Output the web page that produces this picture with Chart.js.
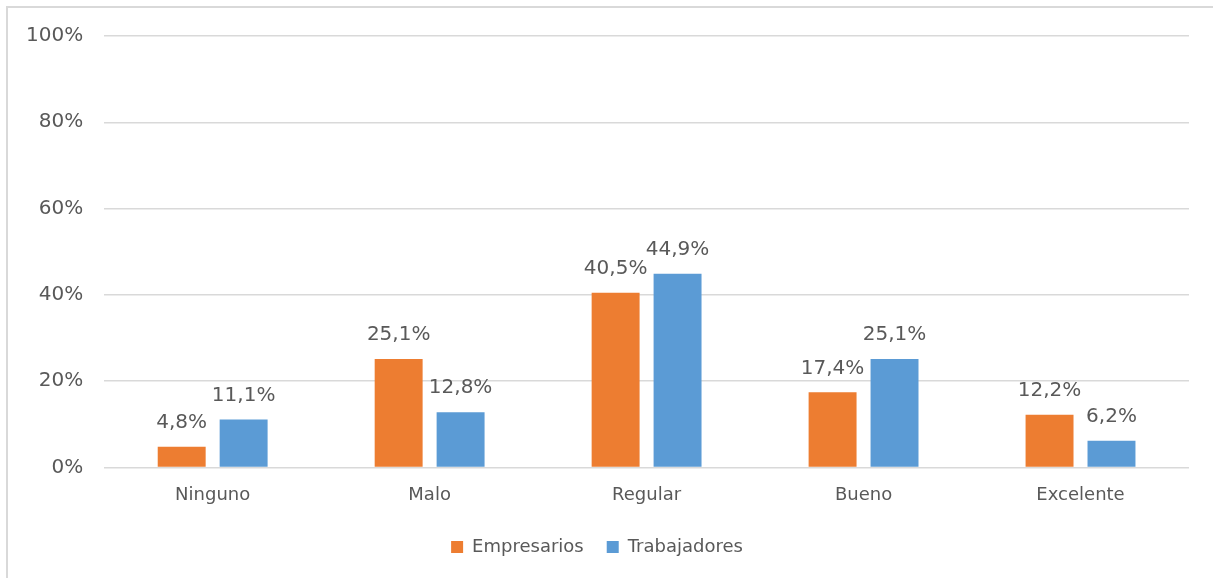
<!DOCTYPE html>
<html>
<head>
<meta charset="utf-8">
<script src="https://cdn.jsdelivr.net/npm/chart.js@4/dist/chart.umd.min.js"></script>
<style>
  html, body { margin: 0; padding: 0; background: #fff; overflow: hidden; }
  #frame { position: absolute; left: 6px; top: 6px; width: 1240px; height: 620px; border: 2px solid #d9d9d9; box-sizing: border-box; }
  #wrap { position: absolute; left: 0; top: 0; width: 1213px; height: 578px; }
</style>
</head>
<body>
<div id="frame"></div>
<div id="wrap"><canvas id="chart"></canvas></div>
<script>
const categories = ['Ninguno', 'Malo', 'Regular', 'Bueno', 'Excelente'];
const empresarios = [4.8, 25.1, 40.5, 17.4, 12.2];
const trabajadores = [11.1, 12.8, 44.9, 25.1, 6.2];
const yTicks = [0, 20, 40, 60, 80, 100];

const textColor = '#595959';
const fontFamily = '"DejaVu Sans", sans-serif';

function fmt(v) { return v.toFixed(1).replace('.', ',') + '%'; }

const valueLabels = {
  id: 'valueLabels',
  afterDatasetsDraw(chart) {
    const ctx = chart.ctx;
    ctx.save();
    ctx.font = '20px ' + fontFamily;
    ctx.fillStyle = textColor;
    ctx.textAlign = 'center';
    ctx.textBaseline = 'bottom';
    chart.data.datasets.forEach((ds, i) => {
      const meta = chart.getDatasetMeta(i);
      meta.data.forEach((bar, j) => {
        ctx.fillText(fmt(ds.data[j]), bar.x, bar.y - 14);
      });
    });
    ctx.restore();
  }
};

new Chart(document.getElementById('chart'), {
  type: 'bar',
  data: {
    labels: categories,
    datasets: [
      { label: 'Empresarios', data: empresarios, backgroundColor: '#ed7d31' },
      { label: 'Trabajadores', data: trabajadores, backgroundColor: '#5b9bd5' }
    ]
  },
  options: {
    responsive: true, maintainAspectRatio: false, animation: false,
    categoryPercentage: 0.571, barPercentage: 0.774,
    layout: { padding: { top: 36, right: 24, bottom: 12, left: 5 } },
    scales: {
      x: {
        grid: { display: false }, border: { display: false },
        ticks: { color: textColor, font: { family: fontFamily, size: 18 }, padding: 9 }
      },
      y: {
        min: 0, max: 100,
        afterBuildTicks: (axis) => { axis.ticks = yTicks.map(v => ({ value: v })); },
        grid: { color: '#d9d9d9', lineWidth: 1.5, drawTicks: false }, border: { display: false },
        ticks: { color: textColor, font: { family: fontFamily, size: 20 }, padding: 21, callback: v => v + '%' }
      }
    },
    plugins: {
      legend: {
        position: 'bottom',
        labels: { color: textColor, font: { family: fontFamily, size: 18 }, boxWidth: 12, boxHeight: 12, padding: 23 }
      },
      tooltip: { enabled: false }
    }
  },
  plugins: [valueLabels]
});
</script>
</body>
</html>
